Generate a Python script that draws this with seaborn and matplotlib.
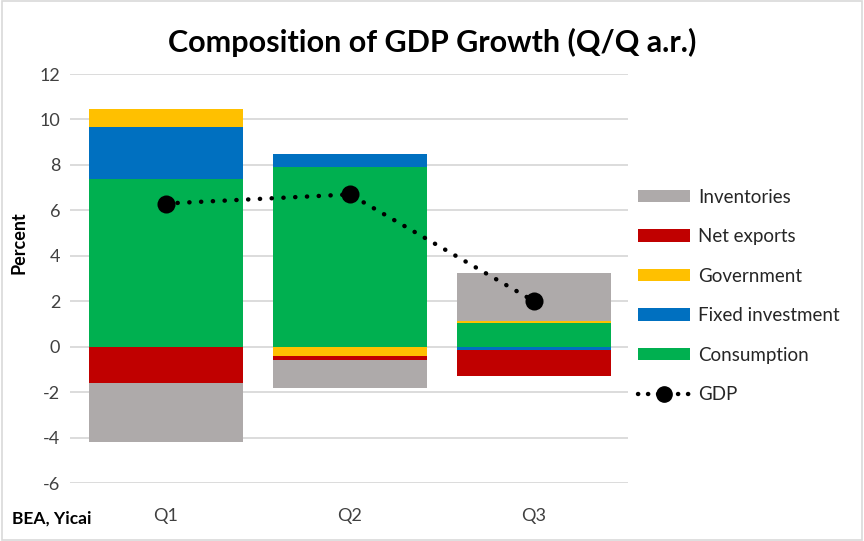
import matplotlib
matplotlib.use("Agg")
import matplotlib.pyplot as plt
import seaborn as sns
import numpy as np
from matplotlib.patches import Patch, Rectangle
from matplotlib.lines import Line2D

quarters = ["Q1", "Q2", "Q3"]
consumption = [7.40, 7.90, 1.04]
fixed_investment = [2.25, 0.60, -0.15]
government = [0.83, -0.40, 0.10]
net_exports = [-1.58, -0.17, -1.13]
inventories = [-2.60, -1.24, 2.09]
gdp = [6.3, 6.7, 2.0]

series = [
    ("Consumption", consumption, "#00B050"),
    ("Fixed investment", fixed_investment, "#0070C0"),
    ("Government", government, "#FFC000"),
    ("Net exports", net_exports, "#C00000"),
    ("Inventories", inventories, "#AEAAAA"),
]

sns.set_theme(style="white")
plt.rcParams["font.family"] = ["Lato", "DejaVu Sans"]
plt.rcParams["axes.unicode_minus"] = False

fig = plt.figure(figsize=(8.64, 5.41), dpi=100)
ax = fig.add_axes([70 / 864, 1 - 483 / 541, (628 - 70) / 864, (483 - 74) / 541])

pos_base = np.zeros(len(quarters))
neg_base = np.zeros(len(quarters))
for name, vals, color in series:
    vals = np.array(vals, dtype=float)
    bottoms = np.where(vals >= 0, pos_base, neg_base)
    sns.barplot(x=quarters, y=vals, bottom=bottoms, color=color, width=0.835,
                ax=ax, saturation=1, edgecolor="none", linewidth=0, zorder=2)
    pos_base = pos_base + np.where(vals >= 0, vals, 0)
    neg_base = neg_base + np.where(vals < 0, vals, 0)

xs = np.arange(len(quarters))
sns.lineplot(x=xs, y=gdp, ax=ax, color="black", linewidth=3.2,
             linestyle=(0, (0.05, 2.6)), dash_capstyle="round",
             marker="o", markersize=13, markeredgewidth=0, zorder=5)

ax.set_ylim(-6, 12)
ax.set_xlim(-0.52, 2.51)
ax.set_yticks(np.arange(-6, 13, 2))
ax.yaxis.grid(True, color="#D9D9D9", linewidth=1.3, zorder=0)
ax.set_axisbelow(True)
for s in ax.spines.values():
    s.set_visible(False)
ax.tick_params(axis="both", length=0, labelsize=13, colors="#404040", pad=7)
ax.tick_params(axis="x", pad=18)
ax.set_xlabel("")
ax.set_ylabel("")
fig.text(19 / 864, 1 - 243 / 541, "Percent", rotation=90, ha="center", va="center",
         fontsize=13, fontweight="bold", color="black")

fig.text(0.5, 1 - 42 / 541, "Composition of GDP Growth (Q/Q a.r.)", ha="center",
         va="center", fontsize=22, fontweight="bold", color="black")
fig.text(12 / 864, 1 - 519 / 541, "BEA, Yicai", ha="left", va="center",
         fontsize=12.5, fontweight="bold", color="black")

handles = [Patch(facecolor=c, edgecolor="none", label=n) for n, _, c in reversed(series)]
handles.append(Line2D([0], [0], color="black", linewidth=3.2, linestyle=(0, (0.05, 2.2)),
                      dash_capstyle="round", marker="o", markersize=11, label="GDP"))
leg = fig.legend(handles=handles, loc="center left", bbox_to_anchor=(621 / 864, 1 - 296 / 541),
                 frameon=False, fontsize=13.5, handlelength=2.8, handleheight=0.65,
                 labelspacing=1.2, handletextpad=0.4, labelcolor="#262626")

fig.patches.append(Rectangle((0.002, 0.002), 0.996, 0.996, transform=fig.transFigure,
                             fill=False, edgecolor="#D9D9D9", linewidth=1.2))

fig.savefig("out.png", dpi=100)
